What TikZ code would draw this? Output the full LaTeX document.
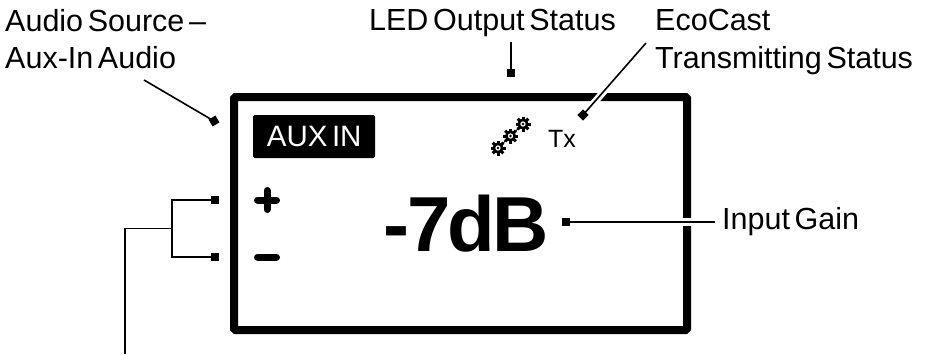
\documentclass[tikz,border=0pt]{standalone}
\usepackage{fontspec}
\setmainfont{Liberation Sans}[WordSpace=0.55]
\newfontfamily\gainfont{Liberation Sans}[LetterSpace=-3.5]

\tikzset{
  callout/.style={font=\fontsize{30.5}{37}\selectfont,inner sep=0pt,align=left},
  leader/.style={line width=1.6pt},
  tip/.style={fill=black,draw=none,minimum size=8pt,inner sep=0pt,rectangle},
}

\begin{document}
\begin{tikzpicture}[x=1pt,y=-1pt]
    \useasboundingbox (0,0) rectangle (925,354);

    % display outline
    \draw[line width=8pt,rounded corners=1.5pt] (234,97) rectangle (687,330);

    % display contents
    \node[fill=black,text=white,rounded corners=1.5pt,inner sep=0pt,minimum width=122pt,minimum height=43pt,
      font=\fontsize{29.5}{30}\selectfont,anchor=west] (auxin) at (253,136.5) {AUX IN};
    \node[font=\fontsize{25}{25}\selectfont,inner sep=0pt,anchor=base] (tx) at (562,147) {Tx};
    \node[font=\gainfont\bfseries\fontsize{78}{78}\selectfont,inner sep=0pt,anchor=base] (gain) at (466.5,251) {-7dB};
    \draw[line width=7pt,line cap=round] (257.5,200) -- (276.5,200) (267,190.5) -- (267,209.5);
    \draw[line width=7pt,line cap=round] (257.5,257) -- (276.5,257);

    % gears
    \draw[line width=1pt] (498,148) -- (523,124);
    \foreach \gx/\gy in {498/148,510.5/136,523/124}{
      \foreach \ga in {0,45,...,315}{
        \draw[line width=3pt] (\gx,\gy) ++(\ga:3.5) -- ++(\ga:4);
      }
      \draw[line width=2.6pt,fill=white] (\gx,\gy) circle (4.2pt);
      \fill (\gx,\gy) circle (1.4pt);
    }

    % labels
    \node[callout,anchor=north west] (source) at (5,9.5) {Audio Source –\\Aux-In Audio};
    \node[callout,anchor=north] (led) at (492.5,9.5) {LED Output Status};
    \node[callout,anchor=north west] (ecocast) at (655,9.5) {EcoCast\\Transmitting Status};
    \node[callout,anchor=west] (input) at (722,222) {Input Gain};

    % leaders
    \coordinate (sourceend) at (144,80);
    \coordinate (ledend) at (511,42);
    \coordinate (ecoend) at (646,43);
    \coordinate (trunk) at (172,228.5);
    \coordinate (trunkend) at (125,354);
    \coordinate (inputend) at (715,222);

    \node[tip,rotate=30] (sourcetip) at (214,121) {};
    \node[tip] (ledtip) at (511,73) {};
    \node[tip,rotate=45] (ecotip) at (583,115) {};
    \node[tip] (plustip) at (215,200) {};
    \node[tip] (minustip) at (215,257) {};
    \node[tip] (gaintip) at (566,222) {};

    \draw[leader] (sourceend) -- (sourcetip.center);
    \draw[leader] (ledend) -- (ledtip.center);
    \draw[white,line width=7pt] (ecoend) ++(-40,46) -- ++(-17,19.5);
    \draw[leader] (ecoend) -- (ecotip.center);
    \draw[white,line width=8pt] (678,222) -- (696,222);
    \draw[leader] (gaintip.center) -- (inputend);
    \draw[leader] (plustip.center) -| (trunk);
    \draw[leader] (minustip.center) -| (trunk);
    \draw[leader] (trunk) -| (trunkend);
\end{tikzpicture}
\end{document}
